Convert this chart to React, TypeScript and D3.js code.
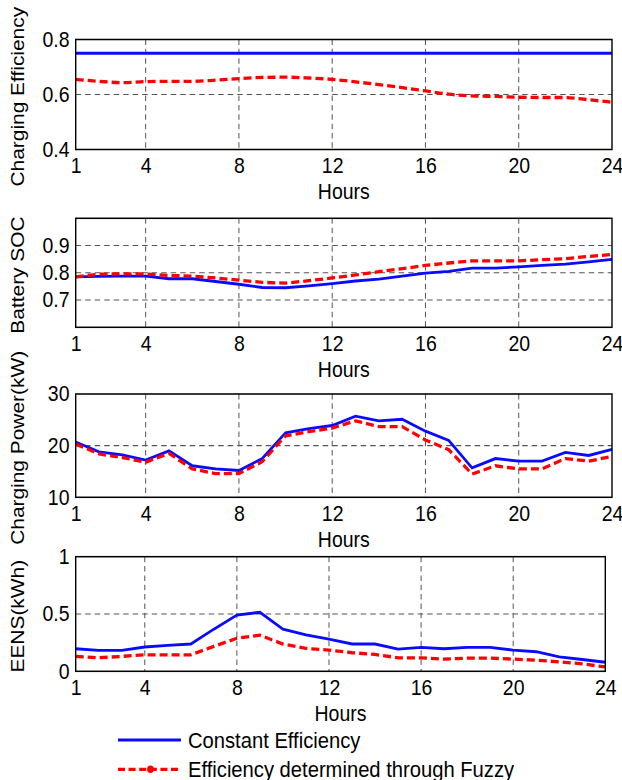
import React from "react";
import * as d3 from "d3";

// hours on the x axis
const hours = [1, 2, 3, 4, 5, 6, 7, 8, 9, 10, 11, 12, 13, 14, 15, 16, 17, 18, 19, 20, 21, 22, 23, 24];
const xTicks = [1, 4, 8, 12, 16, 20, 24];

// charging efficiency
const effConst = [0.75, 0.75, 0.75, 0.75, 0.75, 0.75, 0.75, 0.75, 0.75, 0.75, 0.75, 0.75, 0.75, 0.75, 0.75, 0.75, 0.75, 0.75, 0.75, 0.75, 0.75, 0.75, 0.75, 0.75];
const effFuzzy = [0.655, 0.648, 0.643, 0.647, 0.648, 0.648, 0.652, 0.658, 0.662, 0.663, 0.66, 0.655, 0.646, 0.636, 0.625, 0.613, 0.601, 0.595, 0.593, 0.59, 0.589, 0.589, 0.581, 0.572];

// battery SOC
const socConst = [0.785, 0.787, 0.788, 0.788, 0.778, 0.778, 0.768, 0.758, 0.746, 0.745, 0.752, 0.76, 0.77, 0.777, 0.788, 0.799, 0.805, 0.817, 0.817, 0.822, 0.827, 0.832, 0.84, 0.849];
const socFuzzy = [0.785, 0.795, 0.796, 0.796, 0.79, 0.788, 0.781, 0.773, 0.765, 0.762, 0.771, 0.781, 0.792, 0.804, 0.815, 0.827, 0.836, 0.844, 0.844, 0.844, 0.848, 0.852, 0.86, 0.867];

// charging power (kW)
const powConst = [20.7, 18.8, 18.2, 17.2, 19.0, 16.1, 15.5, 15.2, 17.5, 22.5, 23.3, 23.9, 25.7, 24.8, 25.1, 22.8, 21.0, 15.7, 17.5, 17.0, 17.0, 18.7, 18.1, 19.3];
const powFuzzy = [20.3, 18.4, 17.7, 16.8, 18.5, 15.5, 14.6, 14.6, 16.9, 21.9, 22.7, 23.4, 24.8, 23.7, 23.7, 21.1, 19.2, 14.5, 16.1, 15.5, 15.5, 17.5, 17.0, 17.9];

// EENS (kWh)
const eensConst = [0.197, 0.182, 0.182, 0.212, 0.226, 0.238, 0.368, 0.491, 0.515, 0.368, 0.318, 0.28, 0.238, 0.238, 0.194, 0.209, 0.197, 0.209, 0.209, 0.185, 0.171, 0.126, 0.103, 0.079];
const eensFuzzy = [0.13, 0.118, 0.13, 0.144, 0.144, 0.144, 0.218, 0.288, 0.315, 0.238, 0.2, 0.185, 0.162, 0.147, 0.118, 0.118, 0.106, 0.115, 0.115, 0.106, 0.097, 0.082, 0.065, 0.038];

const yLabels = ["Charging Efficiency", "Battery SOC", "Charging Power(kW)", "EENS(kWh)"];
const yDomains = [[0.4, 0.8], [0.6, 1.0], [10, 30], [0, 1]];
const yTicks = [[0.4, 0.6, 0.8], [0.7, 0.8, 0.9], [10, 20, 30], [0, 0.5, 1]];
const constSeries = [effConst, socConst, powConst, eensConst];
const fuzzySeries = [effFuzzy, socFuzzy, powFuzzy, eensFuzzy];
const legendLabels = ["Constant Efficiency", "Efficiency determined through Fuzzy"];

// the figure is stretched vertically a bit, like the original
const S = 1.1;
const W = 622;
const H = 780;
const FONT = "Liberation Sans, Arial, sans-serif";

// pixel boxes of the four axes (real pixels)
const boxes = [
    { top: 39.5, bottom: 149.5, left: 75.7, right: 612 },
    { top: 218.3, bottom: 327.3, left: 75.7, right: 612 },
    { top: 394, bottom: 497.3, left: 75.7, right: 612 },
    { top: 556.7, bottom: 671.3, left: 75.7, right: 605.3 },
];

export default function App() {
    const ref = React.useRef<HTMLDivElement>(null);

    React.useEffect(() => {
        document.body.style.margin = "0";
        d3.select(ref.current).select("svg").remove();
        drawChart();
    }, []);

    function drawChart() {
        const svg = d3
            .select(ref.current)
            .append("svg")
            .attr("width", W)
            .attr("height", H)
            .attr("viewBox", `0 0 ${W} ${H / S}`)
            .attr("preserveAspectRatio", "none")
            .style("display", "block")
            .style("background", "#fff");

        boxes.forEach((b, i) => {
            const top = b.top / S;
            const bottom = b.bottom / S;
            const x = d3.scaleLinear().domain([1, 24]).range([b.left, b.right]);
            const y = d3.scaleLinear().domain(yDomains[i]).range([bottom, top]);
            const g = svg.append("g");

            // grid
            g.selectAll(".vgrid")
                .data(xTicks.filter((t) => t !== 1 && t !== 24))
                .enter()
                .append("line")
                .attr("x1", (d) => x(d))
                .attr("x2", (d) => x(d))
                .attr("y1", top)
                .attr("y2", bottom)
                .attr("stroke", "#555")
                .attr("stroke-width", 1)
                .attr("stroke-dasharray", "5,3.5");
            const dom = yDomains[i];
            g.selectAll(".hgrid")
                .data(yTicks[i].filter((t) => t !== dom[0] && t !== dom[1]))
                .enter()
                .append("line")
                .attr("x1", b.left)
                .attr("x2", b.right)
                .attr("y1", (d) => y(d))
                .attr("y2", (d) => y(d))
                .attr("stroke", "#555")
                .attr("stroke-width", 1)
                .attr("stroke-dasharray", "5.5,4");

            const line = d3
                .line<number>()
                .x((d, j) => x(hours[j]))
                .y((d) => y(d));
            if (i === 0) line.curve(d3.curveMonotoneX);

            g.append("path")
                .attr("d", line(constSeries[i]))
                .attr("fill", "none")
                .attr("stroke", "#0a0aff")
                .attr("stroke-width", 2.6);
            g.append("path")
                .attr("d", line(fuzzySeries[i]))
                .attr("fill", "none")
                .attr("stroke", "#ff0000")
                .attr("stroke-width", 3)
                .attr("stroke-dasharray", "8,4");

            // box
            g.append("rect")
                .attr("x", b.left)
                .attr("y", top)
                .attr("width", b.right - b.left)
                .attr("height", bottom - top)
                .attr("fill", "none")
                .attr("stroke", "#000")
                .attr("stroke-width", 1.4);

            // axes
            const xAxis = g
                .append("g")
                .attr("transform", `translate(0,${bottom})`)
                .call(d3.axisBottom(x).tickValues(xTicks).tickSize(0).tickPadding(7.8).tickFormat(d3.format("d")));
            const yAxis = g
                .append("g")
                .attr("transform", `translate(${b.left},0)`)
                .call(d3.axisLeft(y).tickValues(yTicks[i]).tickSize(0).tickPadding(6.2).tickFormat((d) => String(d)));
            [xAxis, yAxis].forEach((a) => {
                a.select(".domain").remove();
                a.selectAll("text").attr("font-size", 19.5).attr("font-family", FONT).attr("fill", "#000");
            });

            g.append("text")
                .attr("x", (b.left + b.right) / 2)
                .attr("y", bottom + 45)
                .attr("text-anchor", "middle")
                .attr("font-size", 19.5)
                .attr("font-family", FONT)
                .text("Hours");

            g.append("text")
                .attr("transform", `translate(24,${(top + bottom) / 2 + 2}) rotate(-90)`)
                .attr("text-anchor", "middle")
                .attr("font-size", 19)
                .attr("font-family", FONT)
                .text(yLabels[i]);
        });

        // legend
        const lg = svg.append("g");
        const ly = [740 / S, 769.3 / S];
        lg.append("line")
            .attr("x1", 118)
            .attr("x2", 181)
            .attr("y1", ly[0])
            .attr("y2", ly[0])
            .attr("stroke", "#0a0aff")
            .attr("stroke-width", 2.6);
        lg.append("line")
            .attr("x1", 118)
            .attr("x2", 181)
            .attr("y1", ly[1])
            .attr("y2", ly[1])
            .attr("stroke", "#ff0000")
            .attr("stroke-width", 3)
            .attr("stroke-dasharray", "7,3.6");
        lg.append("circle")
            .attr("cx", 150.5)
            .attr("cy", ly[1])
            .attr("r", 3.4)
            .attr("fill", "#ff0000");
        legendLabels.forEach((t, k) => {
            lg.append("text")
                .attr("x", 188)
                .attr("y", ly[k])
                .attr("dy", "0.36em")
                .attr("font-size", 20.2)
                .attr("font-family", FONT)
                .text(t);
        });
    }

    return <div className="ChartContainer" ref={ref} />;
}
